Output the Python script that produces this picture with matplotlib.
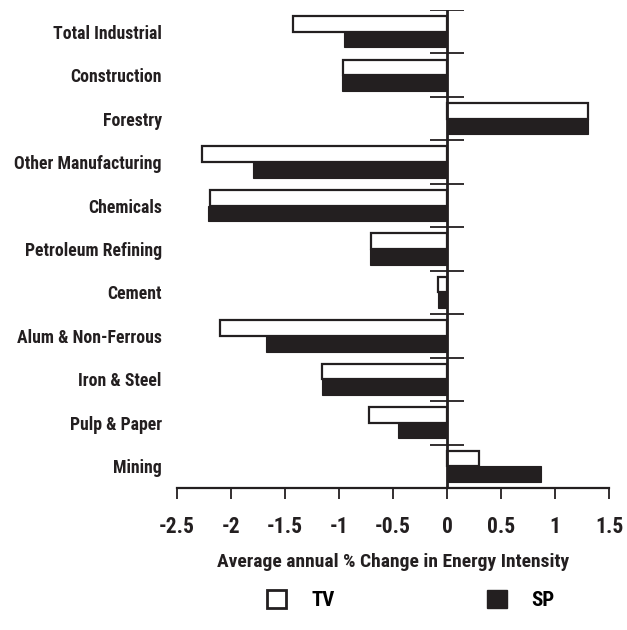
import matplotlib
matplotlib.use("Agg")
import matplotlib.pyplot as plt
from matplotlib.patches import Patch
import numpy as np

# categories, top to bottom as in the picture
categories = ["Total Industrial", "Construction", "Forestry", "Other Manufacturing",
              "Chemicals", "Petroleum Refining", "Cement", "Alum & Non-Ferrous",
              "Iron & Steel", "Pulp & Paper", "Mining"]
tv_values = [-1.43, -0.96, 1.31, -2.27, -2.19, -0.70, -0.08, -2.10, -1.16, -0.72, 0.30]
sp_values = [-0.95, -0.97, 1.31, -1.80, -2.21, -0.71, -0.08, -1.68, -1.16, -0.45, 0.87]
x_ticks = [-2.5, -2, -1.5, -1, -0.5, 0, 0.5, 1, 1.5]
x_ticklabels = ["-2.5", "-2", "-1.5", "-1", "-0.5", "0", "0.5", "1", "1.5"]

ink = "#231f20"
plt.rcParams["font.family"] = ["Roboto Condensed", "DejaVu Sans"]
plt.rcParams["font.weight"] = "bold"

fig = plt.figure(figsize=[6.27, 6.30], dpi=100)
ax = fig.add_axes([0.2823, 0.2254, 0.6890, 0.7587])

n = len(categories)
pos = np.arange(n)[::-1]  # first category at top
bh = 0.36

ax.barh(pos + bh / 2, tv_values, height=bh, color="white", edgecolor=ink, linewidth=1.6)
ax.barh(pos - bh / 2, sp_values, height=bh, color=ink, edgecolor=ink, linewidth=0.8)

ax.set_xlim(-2.5, 1.5)
ax.set_ylim(-0.5, n - 0.5)

# zero line and short separators between groups
ax.axvline(0, color=ink, linewidth=2.0, zorder=5)
bounds = np.arange(n) + 0.5
ax.hlines(bounds, -0.155, 0.155, color=ink, linewidth=1.3, zorder=5)

for side in ["top", "right", "left"]:
    ax.spines[side].set_visible(False)
ax.spines["bottom"].set_linewidth(1.6)
ax.spines["bottom"].set_color(ink)

ax.set_yticks(pos)
ax.set_yticklabels(categories, fontsize=12.8, fontweight="bold", color=ink)
ax.tick_params(axis="y", length=0, pad=11)

ax.set_xticks(x_ticks)
ax.set_xticklabels(x_ticklabels, fontsize=15.5, fontweight="bold", color=ink)
ax.tick_params(axis="x", direction="out", length=8, width=1.3, color=ink, pad=12)

ax.set_xlabel("Average annual % Change in Energy Intensity", fontsize=14,
              fontweight="bold", color=ink, labelpad=11)

handles = [Patch(facecolor="white", edgecolor=ink, linewidth=2.0, label="TV"),
           Patch(facecolor=ink, edgecolor=ink, label="SP")]
fig.legend(handles=handles, loc="center", bbox_to_anchor=(0.655, 0.048), ncol=2,
           frameon=False, fontsize=15, handlelength=0.95, handleheight=1.0,
           handletextpad=1.2, columnspacing=7.3)

fig.savefig("out.png", dpi=100)
